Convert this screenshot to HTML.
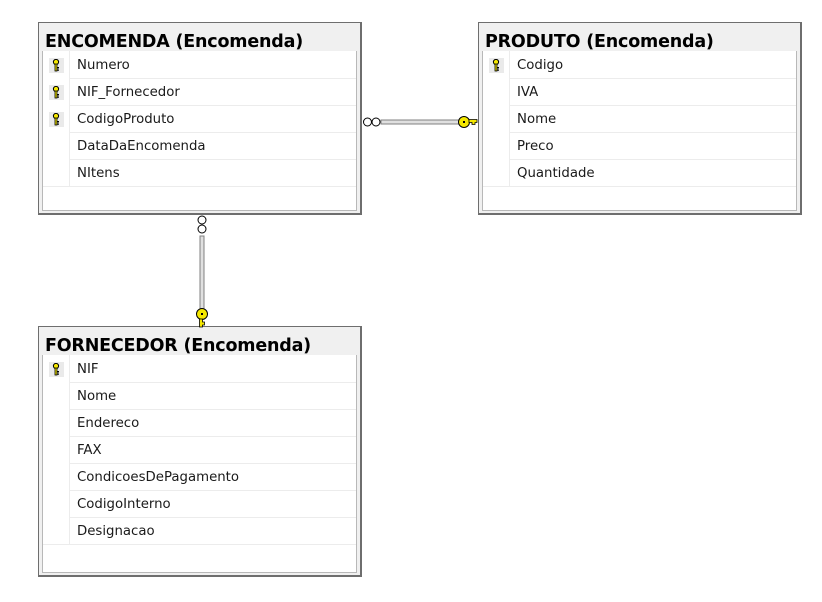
<!DOCTYPE html>
<html><head><meta charset="utf-8"><style>
body{margin:0;width:822px;height:602px;background:#fff;position:relative;overflow:hidden;font-family:"DejaVu Sans","Liberation Sans",sans-serif;}
.box{position:absolute;box-sizing:border-box;border:1px solid #6e6e6e;border-right-width:2px;border-bottom-width:2px;background:#f0f0f0;}
.title{position:absolute;left:6px;top:9px;font-size:17.5px;font-weight:bold;color:#000;white-space:nowrap;letter-spacing:-0.2px;}
.inner{position:absolute;left:3px;right:3px;bottom:2px;top:28px;background:#fff;border:1px solid #b8b8b8;border-top:none;}
.row{position:absolute;left:0;right:0;height:27px;border-bottom:1px solid #ececec;}
.ic{position:absolute;left:0;top:0;width:26px;height:27px;background:#fff;border-right:1px solid #ececec;}
.tx{position:absolute;left:34px;top:7px;font-size:13.3px;color:#1a1a1a;white-space:nowrap;}
.key{position:absolute;left:6px;top:7px;background:#eaeaea;padding:1px 3px;}
</style></head><body>
<svg width="0" height="0" style="position:absolute"><defs>
<g id="k"><circle cx="4" cy="3" r="2.6" fill="#f5e800" stroke="#000" stroke-width="1"/><rect x="3" y="5" width="2" height="7" fill="#f5e800" stroke="#000" stroke-width="0.8"/><rect x="5" y="8" width="2" height="1.5" fill="#000"/><rect x="5" y="10.5" width="2" height="1.2" fill="#000"/></g>
</defs></svg>

<div class="box" style="left:38px;top:22px;width:324px;height:193px;">
<div class="title">ENCOMENDA (Encomenda)</div>
<div class="inner">
<div class="row" style="top:0"><div class="ic"><svg class="key" width="9" height="13"><use href="#k"/></svg></div><div class="tx">Numero</div></div>
<div class="row" style="top:27px"><div class="ic"><svg class="key" width="9" height="13"><use href="#k"/></svg></div><div class="tx">NIF_Fornecedor</div></div>
<div class="row" style="top:54px"><div class="ic"><svg class="key" width="9" height="13"><use href="#k"/></svg></div><div class="tx">CodigoProduto</div></div>
<div class="row" style="top:81px"><div class="ic"></div><div class="tx">DataDaEncomenda</div></div>
<div class="row" style="top:108px"><div class="ic"></div><div class="tx">NItens</div></div>
</div></div>

<div class="box" style="left:478px;top:22px;width:324px;height:193px;">
<div class="title">PRODUTO (Encomenda)</div>
<div class="inner">
<div class="row" style="top:0"><div class="ic"><svg class="key" width="9" height="13"><use href="#k"/></svg></div><div class="tx">Codigo</div></div>
<div class="row" style="top:27px"><div class="ic"></div><div class="tx">IVA</div></div>
<div class="row" style="top:54px"><div class="ic"></div><div class="tx">Nome</div></div>
<div class="row" style="top:81px"><div class="ic"></div><div class="tx">Preco</div></div>
<div class="row" style="top:108px"><div class="ic"></div><div class="tx">Quantidade</div></div>
</div></div>

<div class="box" style="left:38px;top:326px;width:324px;height:251px;">
<div class="title">FORNECEDOR (Encomenda)</div>
<div class="inner">
<div class="row" style="top:0"><div class="ic"><svg class="key" width="9" height="13"><use href="#k"/></svg></div><div class="tx">NIF</div></div>
<div class="row" style="top:27px"><div class="ic"></div><div class="tx">Nome</div></div>
<div class="row" style="top:54px"><div class="ic"></div><div class="tx">Endereco</div></div>
<div class="row" style="top:81px"><div class="ic"></div><div class="tx">FAX</div></div>
<div class="row" style="top:108px"><div class="ic"></div><div class="tx">CondicoesDePagamento</div></div>
<div class="row" style="top:135px"><div class="ic"></div><div class="tx">CodigoInterno</div></div>
<div class="row" style="top:162px"><div class="ic"></div><div class="tx">Designacao</div></div>
</div></div>

<svg width="822" height="602" style="position:absolute;left:0;top:0">
<rect x="381" y="120" width="80" height="4" fill="#e0e0e0" stroke="#808080" stroke-width="1"/>
<circle cx="367.5" cy="122" r="4" fill="#fff" stroke="#000"/>
<circle cx="376" cy="122" r="4" fill="#fff" stroke="#000"/>
<g>
<circle cx="464" cy="122" r="5.5" fill="#f5e800" stroke="#000"/>
<path d="M469 119.5 H477 V122.5 H475 V124.5 H472 V122.5 H469 Z" fill="#f5e800" stroke="#000" stroke-width="0.8"/>
<rect x="463" y="121" width="2" height="2" fill="#000"/>
</g>
<rect x="200" y="236" width="4" height="73" fill="#e0e0e0" stroke="#808080" stroke-width="1"/>
<circle cx="202" cy="220" r="4" fill="#fff" stroke="#000"/>
<circle cx="202" cy="229" r="4" fill="#fff" stroke="#000"/>
<g>
<circle cx="202" cy="314" r="5.5" fill="#f5e800" stroke="#000"/>
<path d="M199.5 319 V327 H202.5 V325 H204.5 V322 H202.5 V319 Z" fill="#f5e800" stroke="#000" stroke-width="0.8"/>
<rect x="201" y="313" width="2" height="2" fill="#000"/>
</g>
</svg>
</body></html>
